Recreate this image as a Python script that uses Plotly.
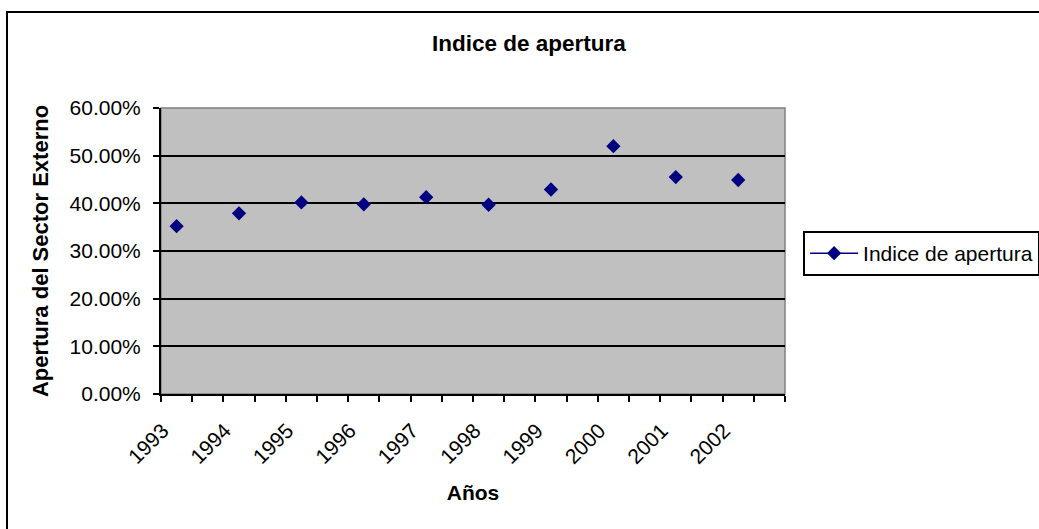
import plotly.graph_objects as go

# Años (one label every second category slot, as in the original sheet)
years = ["1993", "1994", "1995", "1996", "1997", "1998", "1999", "2000", "2001", "2002"]
apertura = [0.352, 0.379, 0.402, 0.398, 0.413, 0.397, 0.429, 0.520, 0.455, 0.449]
n_slots = 20
y_ticks = [0, 0.1, 0.2, 0.3, 0.4, 0.5, 0.6]

# data sits in every second slot, blanks between (so the line breaks)
slot_x = list(range(n_slots))
slot_y = [None] * n_slots
for i, v in enumerate(apertura):
    slot_y[2 * i] = v
label_pos = [2 * i - 0.45 for i in range(len(years))]

font = "Arial, Liberation Sans, sans-serif"

fig = go.Figure()
fig.add_trace(go.Scatter(
    x=slot_x,
    y=slot_y,
    mode="lines+markers",
    connectgaps=False,
    name="Indice de apertura",
    marker=dict(symbol="diamond", size=11, color="#000080"),
    line=dict(color="#000080", width=1.5),
))

fig.update_layout(
    width=1039, height=529,
    margin=dict(l=161, r=254, t=108, b=135, autoexpand=False),
    paper_bgcolor="white",
    plot_bgcolor="#C0C0C0",
    font=dict(family=font, size=21, color="black"),
    showlegend=True,
    legend=dict(
        x=1.029, y=0.57, xanchor="left", yanchor="top",
        bgcolor="white", bordercolor="black", borderwidth=2,
        font=dict(size=21), itemwidth=48,
    ),
    annotations=[
        dict(text="<b>Indice de apertura</b>", x=0.59, y=(394 - 43) / 286,
             xref="paper", yref="paper", yanchor="middle", xanchor="center",
             showarrow=False, font=dict(size=22.5)),
    ],
    shapes=[
        dict(type="rect", xref="paper", yref="paper",
             x0=-0.2468, y0=-0.5, x1=1.45, y1=(394 - 12) / 286,
             line=dict(color="black", width=2), layer="below"),
        dict(type="rect", xref="paper", yref="paper", x0=0, y0=0, x1=1, y1=1,
             line=dict(color="#808080", width=1.5), layer="below"),
    ],
)

fig.update_xaxes(
    range=[-0.5, n_slots - 0.5],
    tickmode="array", tickvals=label_pos, ticktext=years,
    tickangle=-45, ticks="", showgrid=False, zeroline=False,
    showline=True, linecolor="black", linewidth=2,
    ticklabelstandoff=14,
    minor=dict(tickmode="array", tickvals=[i - 0.5 for i in range(n_slots + 1)],
               ticks="outside", ticklen=6, tickwidth=2, tickcolor="black"),
    title=dict(text="<b>Años</b>", font=dict(size=21), standoff=18),
)
fig.update_yaxes(
    range=[0, 0.6], tickvals=y_ticks, tickformat=".2%",
    ticks="outside", ticklen=6, tickwidth=2, tickcolor="black",
    showgrid=True, gridcolor="black", gridwidth=2, zeroline=False,
    showline=True, linecolor="black", linewidth=2,
    ticklabelstandoff=8,
    title=dict(text="<b>Apertura del Sector Externo</b>", font=dict(size=22), standoff=15),
)

# drop the default 8px page margin so the figure fills the window
fig.write_html("out.html", config={"displayModeBar": False},
               post_script="document.body.style.margin='0';document.body.style.overflow='hidden';")
